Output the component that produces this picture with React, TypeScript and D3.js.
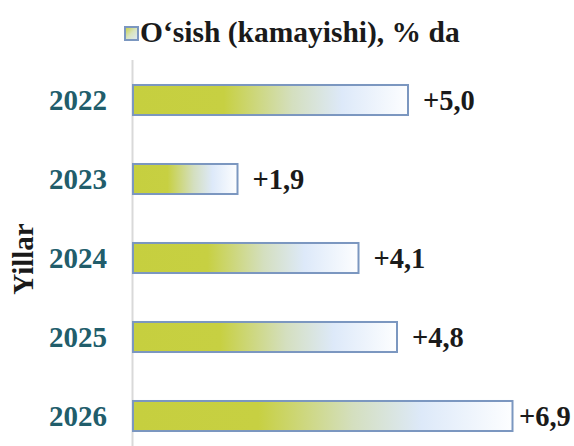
import * as d3 from "d3";
import React from "react";

const years = ["2022", "2023", "2024", "2025", "2026"];
const growth = [5.0, 1.9, 4.1, 4.8, 6.9];
const valueLabels = ["+5,0", "+1,9", "+4,1", "+4,8", "+6,9"];
const seriesName = "O‘sish (kamayishi), % da";
const axisTitle = "Yillar";

const W = 574;
const H = 446;
const font = "Liberation Serif";

function BarGradient({ id }: { id: string }) {
  return (
    <linearGradient id={id} x1="0" x2="1" y1="0" y2="0">
      <stop offset="0" stopColor="#c6cf3f" />
      <stop offset="0.33" stopColor="#c7d042" />
      <stop offset="0.58" stopColor="#d4dfbf" />
      <stop offset="0.76" stopColor="#dde9f9" />
      <stop offset="1" stopColor="#fdfeff" />
    </linearGradient>
  );
}

export default function App() {
  const x = d3.scaleLinear().domain([0, 1]).range([133, 188]);
  const y = d3
    .scaleBand<string>()
    .domain(years)
    .range([60.5, 455.5])
    .paddingInner(0.62)
    .paddingOuter(0.31);

  return (
    <div style={{ position: "absolute", left: 0, top: 0 }}>
      <svg width={W} height={H} style={{ display: "block", background: "#fff" }}>
        <defs>
          <BarGradient id="barGrad" />
          <linearGradient id="legGrad" x1="0" x2="1" y1="0" y2="1">
            <stop offset="0" stopColor="#c6cf3f" />
            <stop offset="0.5" stopColor="#d8e4c0" />
            <stop offset="1" stopColor="#dde9f9" />
          </linearGradient>
        </defs>

        {/* legend */}
        <rect x={125} y={27} width={13} height={13} fill="url(#legGrad)" stroke="#7b97c0" strokeWidth={2} />
        <text x={140} y={42} fontFamily={font} fontWeight="bold" fontSize={29.5} fill="#1a1a1a">
          {seriesName}
        </text>

        {/* axis line */}
        <line x1={132.5} x2={132.5} y1={60} y2={H} stroke="#d9d9d9" strokeWidth={2} />

        {years.map((yr, i) => {
          const y0 = y(yr) || 0;
          const cy = y0 + y.bandwidth() / 2;
          const end = x(growth[i]);
          return (
            <g key={yr}>
              <rect
                x={x(0)}
                y={y0}
                width={end - x(0)}
                height={y.bandwidth()}
                fill="url(#barGrad)"
                stroke="#7b97c0"
                strokeWidth={2}
              />
              <text
                x={107}
                y={cy}
                dy="0.35em"
                textAnchor="end"
                fontFamily={font}
                fontWeight="bold"
                fontSize={29}
                fill="#215d6b"
              >
                {yr}
              </text>
              <text
                x={Math.min(end + 15, 519)}
                y={cy}
                dy="0.35em"
                fontFamily={font}
                fontWeight="bold"
                fontSize={28.5}
                fill="#1a1a1a"
              >
                {valueLabels[i]}
              </text>
            </g>
          );
        })}

        <text
          transform={`translate(33, 259) rotate(-90)`}
          textAnchor="middle"
          fontFamily={font}
          fontWeight="bold"
          fontSize={29}
          fill="#1a1a1a"
        >
          {axisTitle}
        </text>
      </svg>
    </div>
  );
}
